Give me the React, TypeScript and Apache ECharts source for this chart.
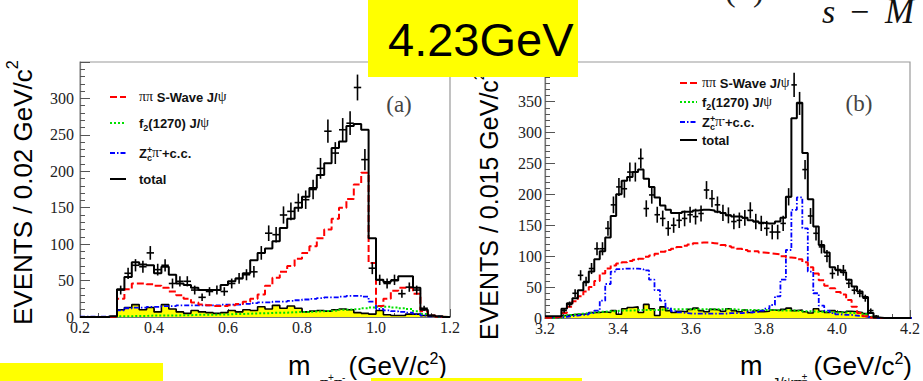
import React, { useEffect, useRef } from 'react';
import * as echarts from 'echarts';

// ---------------- Left panel: m(pi+pi-), 0.02 GeV bins from 0.20 ----------------
const leftStart = 0.2;
const leftBin = 0.02;
const leftXTicks = ['0.2', '0.4', '0.6', '0.8', '1.0', '1.2'];
const leftYTicks = [0, 50, 100, 150, 200, 250, 300];
const leftData = [0, 0, 0, 0, 0, 37, 60, 71, 69, 88, 65, 71, 46, 49, 49, 37, 27, 35, 37, 35, 46, 53, 58, 62, 88, 115, 113, 140, 145, 157, 161, 175, 204, 255, 225, 257, 266, 315, 216, 67, 51, 46, 51, 32, 41, 37, 12, 2, 0, 0];
const leftTotal = [0, 0, 0, 0, 1, 38, 55, 75, 72, 71, 60, 69, 58, 46, 44, 40, 37, 37, 37, 44, 49, 53, 60, 78, 88, 94, 104, 122, 135, 150, 165, 177, 195, 211, 232, 241, 262, 265, 257, 108, 51, 48, 50, 56, 56, 40, 10, 2, 1, 0];
const leftSWave = [0, 0, 0, 0, 0.5, 25, 38, 46, 46, 45, 43, 40, 35, 30, 25, 20, 17, 16, 15, 15, 16, 18, 21, 25, 31, 43, 54, 62, 70, 80, 88, 97, 108, 120, 135, 150, 162, 182, 198, 74, 15, 25, 36, 40, 40, 32, 8, 2, 0.5, 0];
const leftZc = [0.5, 0.5, 0.5, 0.5, 0.5, 9, 12, 13, 13, 14, 14, 15, 15, 16, 16, 16, 16, 16, 16, 17, 17, 17, 18, 19, 20, 20, 21, 21, 22, 23, 24, 25, 26, 27, 27, 28, 29, 29, 28, 21, 11, 9, 8, 7, 6, 4, 2, 1, 0.5, 0];
const leftF2 = [0, 0, 0, 0, 0, 1, 1, 1.5, 1.5, 2, 2, 2, 2, 2.5, 2.5, 3, 3, 3, 3.5, 3.5, 4, 4, 4.5, 5, 5, 5.5, 6, 6, 6.5, 7, 7, 7.5, 8, 8.5, 9, 10, 10.5, 11, 12, 13, 14, 14, 13, 12, 11, 8, 4, 1.5, 0.5, 0];
const leftBkg = [0, 0, 0, 0, 0, 10, 13, 17, 10, 13, 7, 17, 11, 7, 5, 9, 7, 6, 5, 6, 9, 7, 10, 9, 14, 11, 16, 12, 15, 12, 7, 8, 9, 8, 10, 11, 10, 6, 5, 4, 9, 3, 2, 2, 4, 4, 2, 1, 0, 0];

// ---------------- Right panel: m(J/psi pi+-), 0.015 GeV bins from 3.2 ----------------
const rightStart = 3.2;
const rightBin = 0.015;
const rightXTicks = ['3.2', '3.4', '3.6', '3.8', '4.0', '4.2'];
const rightYTicks = [0, 50, 100, 150, 200, 250, 300, 350];
const rightData = [0, 0, 0, 12, 22, 40, 69, 59, 80, 112, 112, 145, 183, 212, 209, 236, 236, 258, 177, 199, 167, 161, 145, 150, 158, 161, 167, 164, 169, 207, 193, 183, 170, 166, 156, 158, 162, 174, 156, 153, 145, 139, 139, 153, 196, 377, 347, 240, 165, 137, 115, 100, 72, 77, 77, 56, 45, 40, 32, 12, 3, 0, 0, 0, 0, 0, 0];
const rightTotal = [3, 3, 3, 15, 24, 32, 45, 58, 75, 95, 108, 130, 165, 200, 222, 228, 236, 240, 225, 212, 195, 182, 175, 170, 170, 172, 172, 174, 175, 175, 174, 172, 170, 166, 164, 164, 162, 158, 156, 154, 153, 153, 156, 162, 196, 323, 348, 267, 192, 148, 118, 106, 82, 78, 74, 62, 51, 43, 34, 8, 1, 0, 0, 0, 0, 0, 0];
const rightSWave = [0.5, 1, 2, 8, 18, 27, 35, 43, 50, 60, 72, 80, 85, 88, 90, 92, 94, 96, 99, 101, 104, 107, 110, 112, 115, 117, 119, 121, 122, 122, 121, 120, 118, 116, 114, 112, 110, 108, 108, 106, 105, 104, 103, 100, 98, 97, 95, 90, 82, 72, 61, 52, 48, 42, 38, 29, 18, 8, 3, 1, 0, 0, 0, 0, 0, 0, 0];
const rightZc = [1, 1, 1, 2, 3, 4, 5, 6, 8, 12, 28, 55, 75, 79, 80, 80, 80, 79, 77, 62, 45, 28, 16, 11, 9, 8, 7, 7, 7, 7, 7, 7, 7, 8, 8, 8, 9, 9, 10, 12, 15, 21, 35, 62, 110, 175, 195, 145, 75, 40, 20, 12, 8, 6, 5, 5, 4, 3, 2, 1, 0, 0, 0, 0, 0, 0, 0];
const rightF2 = [0, 0, 0, 3, 5, 6, 7, 8, 9, 10, 10, 11, 11, 12, 12, 12, 13, 13, 13, 13, 13, 14, 14, 14, 14, 14, 14, 14, 14, 14, 14, 14, 14, 14, 14, 13, 13, 13, 13, 13, 13, 13, 12, 12, 12, 12, 11, 11, 11, 10, 10, 10, 9, 9, 9, 8, 8, 7, 6, 2, 0, 0, 0, 0, 0, 0, 0];
const rightBkg = [2, 2, 2, 4, 5, 6, 6, 7, 9, 9, 10, 9, 12, 6, 15, 17, 18, 9, 22, 15, 4, 18, 12, 9, 11, 10, 14, 16, 12, 10, 14, 13, 11, 15, 12, 10, 13, 9, 12, 10, 11, 13, 12, 14, 16, 12, 13, 10, 8, 15, 11, 9, 12, 10, 9, 11, 10, 9, 7, 2, 0, 0, 0, 0, 0, 0, 0];

const legendLabels = ['ππ S-Wave J/ψ', 'f2(1270) J/ψ', 'Zc+π-+c.c.', 'total'];

const SANS = 'Liberation Sans';
const SERIF = 'Liberation Serif';

let mctx: CanvasRenderingContext2D | null = null;
function measure(text: string, size: number, family: string, weight = 'normal', style = 'normal') {
  if (!mctx) mctx = document.createElement('canvas').getContext('2d');
  if (!mctx) return text.length * size * 0.55;
  mctx.font = `${style} ${weight} ${size}px "${family}"`;
  return mctx.measureText(text).width;
}

function txt(text: string, x: number, baseline: number, size: number, family: string, o: any = {}) {
  const align = o.align ?? 'left';
  return {
    type: 'text', x, y: baseline - 0.34 * size, z: o.z ?? 50, silent: true,
    style: {
      text, fontSize: size, fontFamily: family, fontWeight: o.weight ?? 'normal',
      fontStyle: o.italic ? 'italic' : 'normal', fill: o.fill ?? '#000',
      align, textAlign: align, verticalAlign: 'middle', textVerticalAlign: 'middle',
    },
  };
}

function vtxt(text: string, cx: number, y: number, size: number, family: string) {
  return {
    type: 'text', x: cx, y, rotation: Math.PI / 2, z: 40, silent: true,
    style: { text, fontSize: size, fontFamily: family, fill: '#000', align: 'left', textAlign: 'left', verticalAlign: 'middle', textVerticalAlign: 'middle' },
  };
}

type Seg = { t: string; k: 'b' | 'g' | 'sub' | 'sup'; hold?: boolean };
const SEGF: any = {
  b: { size: 13, family: SANS, weight: 'bold', dy: 0 },
  g: { size: 14, family: SERIF, weight: 'normal', dy: 0 },
  sub: { size: 9, family: SANS, weight: 'bold', dy: 3 },
  sup: { size: 9, family: SANS, weight: 'bold', dy: -5 },
};
function segText(segs: Seg[], x0: number, baseline: number, fonts = SEGF) {
  let x = x0;
  const els: any[] = [];
  for (const s of segs) {
    const f = fonts[s.k];
    const w = measure(s.t, f.size, f.family, f.weight);
    els.push(txt(s.t, x, baseline + f.dy, f.size, f.family, { weight: f.weight, fill: '#111' }));
    if (!s.hold) x += w;
  }
  return els;
}

const legendSegs: Seg[][] = [
  [{ t: 'ππ', k: 'g' }, { t: ' S-Wave J/', k: 'b' }, { t: 'ψ', k: 'g' }],
  [{ t: 'f', k: 'b' }, { t: '2', k: 'sub' }, { t: '(1270) J/', k: 'b' }, { t: 'ψ', k: 'g' }],
  [{ t: 'Z', k: 'b' }, { t: '+', k: 'sup', hold: true }, { t: 'c', k: 'sub' }, { t: 'π', k: 'g' }, { t: '-', k: 'sup' }, { t: '+c.c.', k: 'b' }],
  [{ t: 'total', k: 'b' }],
];

const STY = {
  swave: { color: '#ff0000', width: 2, type: [7, 3] as any },
  f2: { color: '#00e000', width: 2, type: [2, 2] as any },
  zc: { color: '#0000ff', width: 1.8, type: [5, 2, 1.5, 2] as any },
  total: { color: '#000000', width: 2, type: 'solid' as any },
};

function stepData(start: number, w: number, vals: number[]) {
  const d = vals.map((v, i) => [start + i * w, v]);
  d.push([start + vals.length * w, vals[vals.length - 1]]);
  return d;
}
function pointData(start: number, w: number, vals: number[]) {
  return vals.map((v, i) => [start + (i + 0.5) * w, v, w / 2]).filter((p) => p[1] > 0);
}

function hist(k: number, data: any[], ls: any, z: number, area?: string) {
  return {
    type: 'line', xAxisIndex: k, yAxisIndex: k, data, step: 'end', symbol: 'none', showSymbol: false,
    lineStyle: { color: ls.color, width: ls.width, type: ls.type }, z, silent: true,
    areaStyle: area ? { color: area, opacity: 1 } : undefined,
  };
}

function points(k: number, data: any[]) {
  return {
    type: 'custom', xAxisIndex: k, yAxisIndex: k, data, z: 10, silent: true,
    encode: { x: 0, y: 1 },
    renderItem: (_p: any, api: any) => {
      const x = api.value(0), y = api.value(1), hw = api.value(2);
      const e = Math.sqrt(y);
      const a = api.coord([x - hw, y]), b = api.coord([x + hw, y]);
      const t = api.coord([x, y + e]), u = api.coord([x, Math.max(0, y - e)]);
      return {
        type: 'group', children: [
          { type: 'line', shape: { x1: a[0], y1: a[1], x2: b[0], y2: b[1] }, style: { stroke: '#000', lineWidth: 1.6 } },
          { type: 'line', shape: { x1: t[0], y1: t[1], x2: u[0], y2: u[1] }, style: { stroke: '#000', lineWidth: 1.6 } },
        ],
      };
    },
  };
}

function xAxisOpt(k: number, min: number, max: number, labels: string[]) {
  return {
    type: 'value', gridIndex: k, min, max, interval: 0.2,
    axisLine: { show: true, onZero: false, lineStyle: { color: '#777', width: 1.2 } },
    axisTick: { show: true, inside: true, length: 8, lineStyle: { color: '#555' } },
    minorTick: { show: true, splitNumber: 4, length: 4, lineStyle: { color: '#555' } },
    splitLine: { show: false },
    axisLabel: {
      margin: 2, fontFamily: SERIF, fontSize: 16, color: '#222',
      formatter: (v: number) => labels.find((s) => Math.abs(parseFloat(s) - v) < 1e-6) ?? '',
    },
  };
}
function yAxisOpt(k: number, max: number, labels: number[], margin: number) {
  return {
    type: 'value', gridIndex: k, min: 0, max, interval: 50,
    axisLine: { show: true, lineStyle: { color: '#777', width: 1.2 } },
    axisTick: { show: true, inside: true, length: 10, lineStyle: { color: '#555' } },
    minorTick: { show: true, splitNumber: 5, length: 5, lineStyle: { color: '#555' } },
    splitLine: { show: false },
    axisLabel: {
      margin, fontFamily: SERIF, fontSize: 16, color: '#222',
      formatter: (v: number) => (labels.includes(v) ? String(v) : ''),
    },
  };
}

function legend(x1: number, x2: number, tx: number, rows: number[]) {
  const keys = ['swave', 'f2', 'zc', 'total'] as const;
  const els: any[] = [];
  keys.forEach((key, i) => {
    const s: any = (STY as any)[key];
    els.push({
      type: 'line', z: 50, silent: true, shape: { x1, y1: rows[i], x2, y2: rows[i] },
      style: { stroke: s.color, lineWidth: s.width, lineDash: Array.isArray(s.type) ? s.type : null },
    });
    els.push(...segText(legendSegs[i], tx, rows[i] + 4.6));
  });
  return els;
}

function yTitle(text: string, cx: number, y0: number, size: number) {
  const L = measure(text, size, SANS);
  return [vtxt(text, cx, y0, size, SANS), vtxt('2', cx - 0.42 * size, y0 - L, size * 0.62, SANS)];
}

function xTitle(sub: Seg[], mx: number, right: number, subFonts: any) {
  const base = 375;
  const wClose = measure(')', 26, SANS);
  const w2 = measure('2', 16, SANS);
  return [
    txt('m', mx, base, 27, SANS),
    ...segText(sub, mx + 32, base + 13, subFonts),
    txt(')', right - wClose, base, 26, SANS),
    txt('2', right - wClose - w2, base - 11, 16, SANS),
    txt('(GeV/c', right - wClose - w2, base, 26, SANS, { align: 'right' }),
  ];
}

export default function App() {
  const ref = useRef<HTMLDivElement>(null);
  useEffect(() => {
    if (!ref.current) return;
    const chart = echarts.init(ref.current, undefined, { renderer: 'svg' });

    const subFonts: any = {
      b: { size: 15, family: SANS, weight: 'normal', dy: 0 },
      g: { size: 16, family: SERIF, weight: 'normal', dy: 0 },
      sup: { size: 10, family: SANS, weight: 'normal', dy: -7 },
      sub: { size: 10, family: SANS, weight: 'normal', dy: 3 },
    };

    const graphics: any[] = [
      ...yTitle('EVENTS / 0.02 GeV/c', 22.5, 325, 26),
      ...yTitle('EVENTS / 0.015 GeV/c', 488.5, 340, 25),
      ...xTitle([{ t: 'π', k: 'g' }, { t: '+', k: 'sup' }, { t: 'π', k: 'g' }, { t: '-', k: 'sup' }], 288, 447, subFonts),
      ...xTitle([{ t: 'J/', k: 'b' }, { t: 'ψπ', k: 'g' }, { t: '±', k: 'sup' }], 740, 912, subFonts),
      // panel labels
      txt('(a)', 399, 112, 23, SERIF, { align: 'center', fill: '#444' }),
      txt('(b)', 859, 111, 23, SERIF, { align: 'center', fill: '#444' }),
      // legends
      ...legend(110, 126, 139, [97, 123, 153, 179]),
      ...legend(680, 697, 702, [83, 102, 122, 140]),
      // formula fragment, top right
      txt('(', 725, 1, 32, SERIF, { fill: '#222' }),
      txt(')', 753, 1, 32, SERIF, { fill: '#222' }),
      txt('s', 822, 23, 34, SERIF, { italic: true, fill: '#111' }),
      txt('−', 850, 23, 34, SERIF, { fill: '#111' }),
      txt('M', 885, 23, 35, SERIF, { italic: true, fill: '#111' }),
      // yellow boxes
      { type: 'rect', z: 100, silent: true, shape: { x: 368, y: 0, width: 210, height: 77 }, style: { fill: '#ffff00' } },
      txt('4.23GeV', 388, 55, 47, SANS, { z: 101 }),
      { type: 'rect', z: 100, silent: true, shape: { x: 0, y: 363, width: 163, height: 18 }, style: { fill: '#ffff00' } },
      { type: 'rect', z: 100, silent: true, shape: { x: 371, y: 378, width: 211, height: 3 }, style: { fill: '#ffff00' } },
    ];

    const option: any = {
      animation: false,
      backgroundColor: '#ffffff',
      grid: [
        { left: 80, top: 62, width: 370, height: 255, show: true, borderColor: '#999', borderWidth: 1.2, backgroundColor: 'transparent' },
        { left: 545, top: 62, width: 369, height: 256, show: true, borderColor: '#999', borderWidth: 1.2, backgroundColor: 'transparent' },
      ],
      xAxis: [xAxisOpt(0, 0.2, 1.2, leftXTicks), xAxisOpt(1, 3.2, 4.2, rightXTicks)],
      yAxis: [yAxisOpt(0, 350, leftYTicks, 6), yAxisOpt(1, 414, rightYTicks, 3)],
      series: [
        hist(0, stepData(leftStart, leftBin, leftBkg), { color: '#000', width: 1.6, type: 'solid' }, 2, '#ffff00'),
        hist(0, stepData(leftStart, leftBin, leftF2), STY.f2, 3),
        hist(0, stepData(leftStart, leftBin, leftZc), STY.zc, 4),
        hist(0, stepData(leftStart, leftBin, leftSWave), STY.swave, 5),
        hist(0, stepData(leftStart, leftBin, leftTotal), STY.total, 6),
        points(0, pointData(leftStart, leftBin, leftData)),
        hist(1, stepData(rightStart, rightBin, rightBkg), { color: '#000', width: 1.6, type: 'solid' }, 2, '#ffff00'),
        hist(1, stepData(rightStart, rightBin, rightF2), STY.f2, 3),
        hist(1, stepData(rightStart, rightBin, rightZc), STY.zc, 4),
        hist(1, stepData(rightStart, rightBin, rightSWave), STY.swave, 5),
        hist(1, stepData(rightStart, rightBin, rightTotal), STY.total, 6),
        points(1, pointData(rightStart, rightBin, rightData)),
      ],
      graphic: { elements: graphics },
    };
    chart.setOption(option);
    return () => chart.dispose();
  }, []);
  return (
    <div
      ref={ref}
      data-legend={legendLabels.join('|')}
      style={{ position: 'fixed', left: 0, top: 0, width: 923, height: 381, background: '#fff' }}
    />
  );
}
